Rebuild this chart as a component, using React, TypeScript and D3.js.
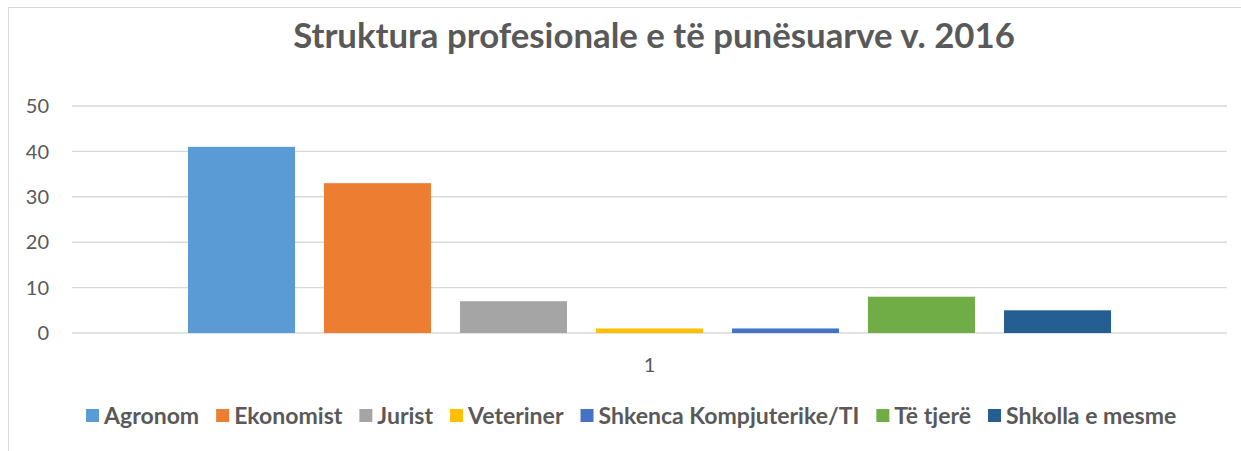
import React, { useEffect, useRef } from "react";
import * as d3 from "d3";

const categories = ["1"];
const seriesNames = ["Agronom", "Ekonomist", "Jurist", "Veteriner", "Shkenca Kompjuterike/TI", "Të tjerë", "Shkolla e mesme"];
const seriesValues = [41, 33, 7, 1, 1, 8, 5];
const seriesColors = ["#5B9BD5", "#ED7D31", "#A5A5A5", "#FFC000", "#4472C4", "#70AD47", "#255E91"];
const yTicks = [0, 10, 20, 30, 40, 50];
const titleText = "Struktura profesionale e të punësuarve v. 2016";

const W = 1241;
const H = 451;
const FONT = "Lato, 'Open Sans', sans-serif";
const TEXT = "#595959";

export default function App() {
  const ref = useRef<SVGSVGElement | null>(null);

  useEffect(() => {
    const svg = d3.select(ref.current);
    svg.selectAll("*").remove();

    svg.append("rect").attr("x", 0).attr("y", 0).attr("width", W).attr("height", H).attr("fill", "#fff");
    svg.append("rect")
      .attr("x", 8.5).attr("y", 7.5).attr("width", W + 10).attr("height", H + 10)
      .attr("fill", "none").attr("stroke", "#d9d9d9").attr("stroke-width", 1);

    const left = 72, right = 1227, top = 106, bottom = 333;
    const y = d3.scaleLinear().domain([0, 50]).range([bottom, top]);
    const x0 = d3.scaleBand<string>().domain(categories).range([left, right]).paddingInner(0).paddingOuter(0);
    const x1 = d3.scaleBand<string>().domain(seriesNames).range([0, x0.bandwidth()]).paddingInner(0.2132).paddingOuter(0.853);

    // gridlines
    svg.append("g").selectAll("line").data(yTicks).join("line")
      .attr("x1", left).attr("x2", right)
      .attr("y1", (d) => y(d)).attr("y2", (d) => y(d))
      .attr("stroke", "#d9d9d9").attr("stroke-width", 1.4);

    // y labels
    svg.append("g").selectAll("text").data(yTicks).join("text")
      .attr("x", 49).attr("y", (d) => y(d)).attr("dy", "0.36em")
      .attr("text-anchor", "end").attr("font-family", FONT).attr("font-size", 20).attr("fill", TEXT)
      .text((d) => String(d));

    // bars
    categories.forEach((c) => {
      svg.append("g").selectAll("rect").data(seriesNames).join("rect")
        .attr("x", (s) => (x0(c) as number) + (x1(s) as number))
        .attr("width", x1.bandwidth())
        .attr("y", (s, i) => y(seriesValues[i]))
        .attr("height", (s, i) => y(0) - y(seriesValues[i]))
        .attr("fill", (s, i) => seriesColors[i]);
      svg.append("text")
        .attr("x", (x0(c) as number) + x0.bandwidth() / 2).attr("y", 372)
        .attr("text-anchor", "middle").attr("font-family", FONT).attr("font-size", 20).attr("fill", TEXT)
        .text(c);
    });

    // title
    const title = svg.append("text")
      .attr("x", 654).attr("y", 48).attr("text-anchor", "middle")
      .attr("font-family", FONT).attr("font-weight", "bold").attr("font-size", 30).attr("fill", TEXT)
      .text(titleText);
    const tw = (title.node() as SVGTextElement).getComputedTextLength();
    if (tw > 0) title.attr("font-size", 30 * 722 / tw);

    // legend
    const lg = svg.append("g");
    const fs0 = 18;
    const sq = 13, sqGap = 5, gap = 17;
    const texts = seriesNames.map((name, i) => {
      const g = lg.append("g");
      g.append("rect").attr("width", sq).attr("height", sq).attr("y", -15).attr("fill", seriesColors[i]);
      const t = g.append("text").attr("x", sq + sqGap).attr("y", 0).attr("font-family", FONT).attr("font-weight", "bold")
        .attr("font-size", fs0).attr("fill", TEXT).text(name);
      return { g, t };
    });
    const textSum0 = d3.sum(texts, (d) => (d.t.node() as SVGTextElement).getComputedTextLength());
    const fixed = seriesNames.length * (sq + sqGap) + gap * (seriesNames.length - 1);
    const target = 1091;
    const fs = textSum0 > 0 ? fs0 * (target - fixed) / textSum0 : fs0;
    texts.forEach((d) => d.t.attr("font-size", fs));
    let cx = 86;
    texts.forEach((d) => {
      const w = (d.t.node() as SVGTextElement).getComputedTextLength();
      d.g.attr("transform", `translate(${cx},424)`);
      cx += sq + sqGap + w + gap;
    });
  }, []);

  return (
    <svg ref={ref} width={W} height={H} style={{ display: "block", position: "absolute", left: 0, top: 0 }} />
  );
}
